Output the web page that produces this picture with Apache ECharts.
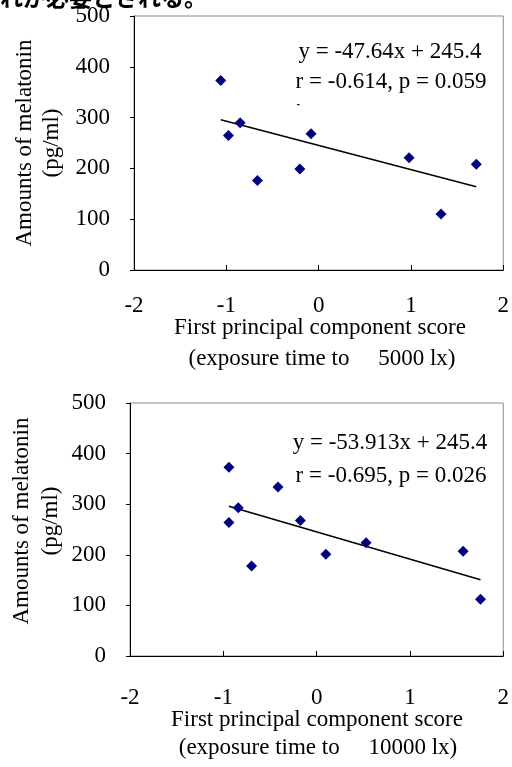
<!DOCTYPE html>
<html><head><meta charset="utf-8">
<script src="https://cdn.jsdelivr.net/npm/echarts@6/dist/echarts.min.js"></script>
<style>html,body{margin:0;padding:0;background:#fff}#c{width:512px;height:767px}</style>
</head><body><div id="c"></div>
<script>
// ---- data ----
var xTicks = [-2, -1, 0, 1, 2];
var yTicks = [0, 100, 200, 300, 400, 500];
var top_x = [-1.06, -0.977, -0.85, -0.663, -0.22, -0.203, -0.082, 0.98, 1.326, 1.708];
var top_y = [373, 265, 290, 176, 334, 199, 268, 221, 110, 208];
var bot_x = [-0.94, -0.94, -0.84, -0.697, -0.414, -0.174, 0.099, 0.53, 1.57, 1.756];
var bot_y = [373, 264, 293, 178, 334, 268, 201, 224, 207, 112];
var top_fit = [-47.64, 245.4];   // slope, intercept
var bot_fit = [-53.913, 245.4];
var top_eq = ["y = -47.64x + 245.4", "r = -0.614, p = 0.059"];
var bot_eq = ["y = -53.913x + 245.4", "r = -0.695, p = 0.026"];
var yName = ["Amounts of melatonin", "(pg/ml)"];
var top_xName = ["First principal component score", "(exposure time to     5000 lx)"];
var bot_xName = ["First principal component score", "(exposure time to     10000 lx)"];
var headText = "れが必要とされる。";

function pts(xs, ys){ return xs.map(function(x,i){return [x, ys[i]];}); }
function fitLine(xs, fit){
  var a = Math.min.apply(null, xs), b = Math.max.apply(null, xs);
  return [[a, fit[0]*a+fit[1]], [b, fit[0]*b+fit[1]]];
}
var FONT = "'Times New Roman','Liberation Serif',serif";
var txt = {color:'#000', fontFamily:FONT, fontSize:23};

function xAx(gi, margin){
  return {gridIndex:gi, type:'value', min:xTicks[0], max:xTicks[xTicks.length-1], interval:1,
    axisLine:{show:true, onZero:false, lineStyle:{color:'#000', width:1}},
    axisTick:{show:true, inside:true, length:5, lineStyle:{color:'#000'}},
    axisLabel:Object.assign({margin:margin}, txt),
    splitLine:{show:false}};
}
function yAx(gi){
  return {gridIndex:gi, type:'value', min:yTicks[0], max:yTicks[yTicks.length-1], interval:100,
    axisLine:{show:true, onZero:false, lineStyle:{color:'#000', width:1}},
    axisTick:{show:true, inside:false, length:4, lineStyle:{color:'#000'}},
    axisLabel:Object.assign({margin:24}, txt),
    splitLine:{show:false}};
}
function scat(gi, d){
  return {type:'scatter', xAxisIndex:gi, yAxisIndex:gi, data:d, symbol:'diamond', symbolSize:11,
    itemStyle:{color:'#000080', opacity:1}, z:5, silent:true};
}
function trend(gi, d){
  return {type:'line', xAxisIndex:gi, yAxisIndex:gi, data:d, symbol:'none',
    lineStyle:{color:'#000', width:1.5}, z:3, silent:true};
}
function gtext(x, y, text, rot, extra){
  return Object.assign({type:'text', x:x, y:y, rotation:rot||0, z:100,
    style:Object.assign({text:text, fill:'#000', font:'23px ' + FONT, align:'center', verticalAlign:'middle'}, extra||{})});
}

var chart = echarts.init(document.getElementById('c'), null, {renderer:'canvas'});
chart.setOption({
  animation:false,
  backgroundColor:'#fff',
  grid:[
    {left:134, top:16, width:374, height:254, show:true, borderColor:'#8c8c8c', borderWidth:1, backgroundColor:'transparent'},
    {left:130, top:403, width:377, height:253, show:true, borderColor:'#8c8c8c', borderWidth:1, backgroundColor:'transparent'}
  ],
  xAxis:[xAx(0, 24), xAx(1, 30)],
  yAxis:[yAx(0), yAx(1)],
  series:[
    trend(0, fitLine(top_x, top_fit)), scat(0, pts(top_x, top_y)),
    trend(1, fitLine(bot_x, bot_fit)), scat(1, pts(bot_x, bot_y))
  ],
  graphic:[
    {type:'rect', shape:{x:288, y:34, width:206, height:70}, style:{fill:'#fff'}, z:90},
    gtext(390, 52, top_eq[0]), gtext(391, 82, top_eq[1]),
    gtext(390, 443, bot_eq[0]), gtext(391, 476, bot_eq[1]),
    gtext(25, 143, yName[0], Math.PI/2), gtext(52, 143, yName[1], Math.PI/2),
    gtext(22, 521, yName[0], Math.PI/2), gtext(51, 521, yName[1], Math.PI/2),
    gtext(320, 328, top_xName[0]), gtext(322, 359, top_xName[1]),
    gtext(317, 720, bot_xName[0]), gtext(318, 748, bot_xName[1]),
    gtext(0, 9, headText, 0, {align:'left', verticalAlign:'bottom', font:'bold 23px "Noto Sans CJK JP"'})
  ]
});
</script></body></html>
